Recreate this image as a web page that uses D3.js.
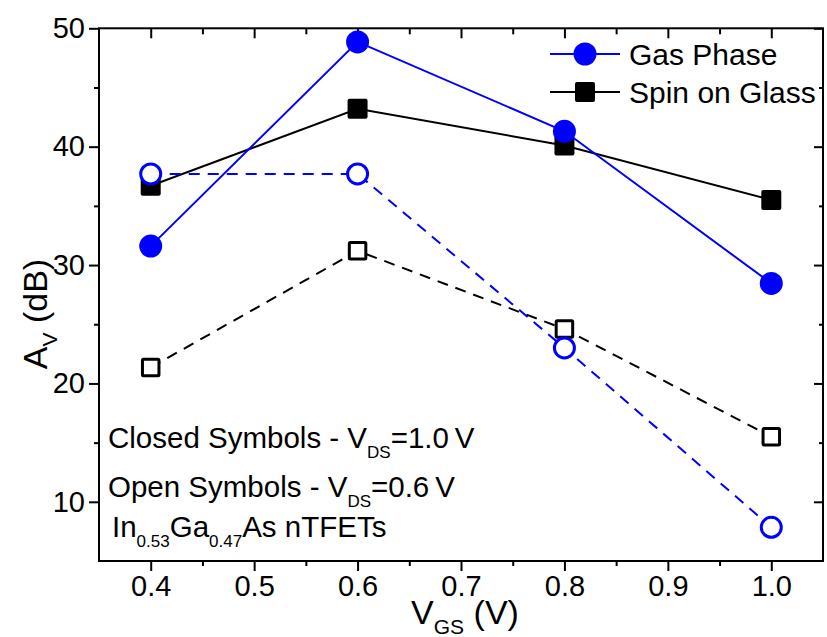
<!DOCTYPE html>
<html><head><meta charset="utf-8">
<script src="https://cdn.jsdelivr.net/npm/d3@7"></script>
<style>body{margin:0;background:#fff;} svg{display:block;font-family:Arial,"Liberation Sans",sans-serif;}</style>
</head><body><svg id="c" width="827" height="637"></svg>
<script>
const vgs = [0.4, 0.6, 0.8, 1.0];
const gasClosed = [31.6, 48.85, 41.3, 28.45];
const spinClosed = [36.7, 43.2, 40.1, 35.5];
const gasOpen = [37.7, 37.7, 23.0, 7.85];
const spinOpen = [21.35, 31.2, 24.6, 15.5];
const xTicks = [0.4, 0.5, 0.6, 0.7, 0.8, 0.9, 1.0];
const yTicks = [10, 20, 30, 40, 50];
const seriesNames = ["Gas Phase", "Spin on Glass"];

const svg = d3.select("#c");
const FF = "Arial, 'Liberation Sans', sans-serif";
const L = 99, R = 823, T = 28.3, B = 561;
const x = d3.scaleLinear().domain([0.35, 1.05]).range([L, R]);
const y = d3.scaleLinear().domain([5, 50]).range([B, T]);
const xMinor = d3.range(0, 15).map(i => 0.35 + i * 0.05).filter(v => v > 0.351 && v < 1.049 && !xTicks.some(t => Math.abs(t - v) < 1e-6));
const yMinor = [15, 25, 35, 45];

function axisG(axis, tx, ty) {
  const g = svg.append("g").attr("transform", `translate(${tx},${ty})`).call(axis);
  g.select(".domain").remove();
  g.selectAll("line").attr("stroke", "#000").attr("stroke-width", 2);
  return g;
}
// bottom
const bx = axisG(d3.axisBottom(x).tickValues(xTicks).tickFormat(d3.format(".1f")).tickSize(10).tickPadding(4), 0, B);
bx.selectAll("text").attr("font-size", 29).attr("fill", "#000").attr("font-family", FF);
axisG(d3.axisBottom(x).tickValues(xMinor).tickFormat("").tickSize(5), 0, B);
// top (inward)
axisG(d3.axisBottom(x).tickValues(xTicks).tickFormat("").tickSize(10), 0, T);
axisG(d3.axisBottom(x).tickValues(xMinor).tickFormat("").tickSize(6), 0, T);
// left
const ly = axisG(d3.axisLeft(y).tickValues(yTicks).tickSize(10).tickPadding(4), L, 0);
ly.selectAll("text").attr("font-size", 29).attr("fill", "#000").attr("font-family", FF);
axisG(d3.axisLeft(y).tickValues(yMinor).tickFormat("").tickSize(5), L, 0);
// right (inward)
axisG(d3.axisLeft(y).tickValues(yTicks).tickFormat("").tickSize(9), R, 0);
axisG(d3.axisLeft(y).tickValues(yMinor).tickFormat("").tickSize(4), R, 0);
// frame
svg.append("rect").attr("x", L).attr("y", T).attr("width", R - L).attr("height", B - T)
  .attr("fill", "none").attr("stroke", "#000").attr("stroke-width", 2);

const line = d3.line().x((d, i) => x(vgs[i])).y(d => y(d));
function series(vals, color, dashed, marker, open) {
  svg.append("path").datum(vals).attr("d", line).attr("fill", "none").attr("stroke", color)
    .attr("stroke-width", 2).attr("stroke-dasharray", dashed ? "11,8" : null);
  const g = svg.append("g");
  vals.forEach((v, i) => {
    const cx = x(vgs[i]), cy = y(v);
    if (marker === "circle") {
      g.append("circle").attr("cx", cx).attr("cy", cy).attr("r", open ? 10 : 11.5)
        .attr("fill", open ? "#fff" : color).attr("stroke", open ? color : "none").attr("stroke-width", 3);
    } else {
      const s = open ? 16.5 : 20;
      g.append("rect").attr("x", cx - s / 2).attr("y", cy - s / 2).attr("width", s).attr("height", s).attr("rx", open ? 1 : 2)
        .attr("fill", open ? "#fff" : color).attr("stroke", open ? color : "none").attr("stroke-width", 3);
    }
  });
}
series(spinClosed, "#000", false, "square", false);
series(gasClosed, "#0000ff", false, "circle", false);
series(spinOpen, "#000", true, "square", true);
series(gasOpen, "#0000ff", true, "circle", true);

// legend
const leg = [{n: seriesNames[0], c: "#0000ff", m: "circle", y: 54}, {n: seriesNames[1], c: "#000", m: "square", y: 92}];
leg.forEach(d => {
  svg.append("line").attr("x1", 550).attr("x2", 620).attr("y1", d.y).attr("y2", d.y).attr("stroke", d.c).attr("stroke-width", 2);
  if (d.m === "circle") svg.append("circle").attr("cx", 585).attr("cy", d.y).attr("r", 11.5).attr("fill", d.c);
  else svg.append("rect").attr("x", 575).attr("y", d.y - 10).attr("width", 20).attr("height", 20).attr("rx", 2).attr("fill", d.c);
  svg.append("text").attr("x", 629).attr("y", d.y + 10.5).attr("font-size", 30).attr("fill", "#000").text(d.n);
});

// annotations
function rich(xp, yp, parts, size) {
  const t = svg.append("text").attr("x", xp).attr("y", yp).attr("font-size", size).attr("fill", "#000");
  parts.forEach(p => {
    if (p.sub) t.append("tspan").attr("dy", 10).attr("font-size", 17).text(p.t);
    else t.append("tspan").attr("dy", p.back ? -10 : 0).text(p.t);
  });
  return t;
}
rich(108, 448, [{t: "Closed Symbols - V"}, {t: "DS", sub: true}, {t: "=1.0\u2009V", back: true}], 29.5);
rich(108, 497, [{t: "Open Symbols - V"}, {t: "DS", sub: true}, {t: "=0.6\u2009V", back: true}], 29.5);
rich(112, 537, [{t: "In"}, {t: "0.53", sub: true}, {t: "Ga", back: true}, {t: "0.47", sub: true}, {t: "As nTFETs", back: true}], 29.5);

// axis titles
const xt = svg.append("text").attr("x", 465).attr("y", 624).attr("text-anchor", "middle").attr("font-size", 34).attr("fill", "#000");
xt.append("tspan").text("V");
xt.append("tspan").attr("dy", 10).attr("font-size", 21).text("GS");
xt.append("tspan").attr("dy", -10).text(" (V)");
const yt = svg.append("text").attr("transform", "translate(47,314) rotate(-90)").attr("text-anchor", "middle").attr("font-size", 34).attr("fill", "#000");
yt.append("tspan").text("A");
yt.append("tspan").attr("dy", 10).attr("font-size", 21).text("V");
yt.append("tspan").attr("dy", -10).text(" (dB)");
</script></body></html>
